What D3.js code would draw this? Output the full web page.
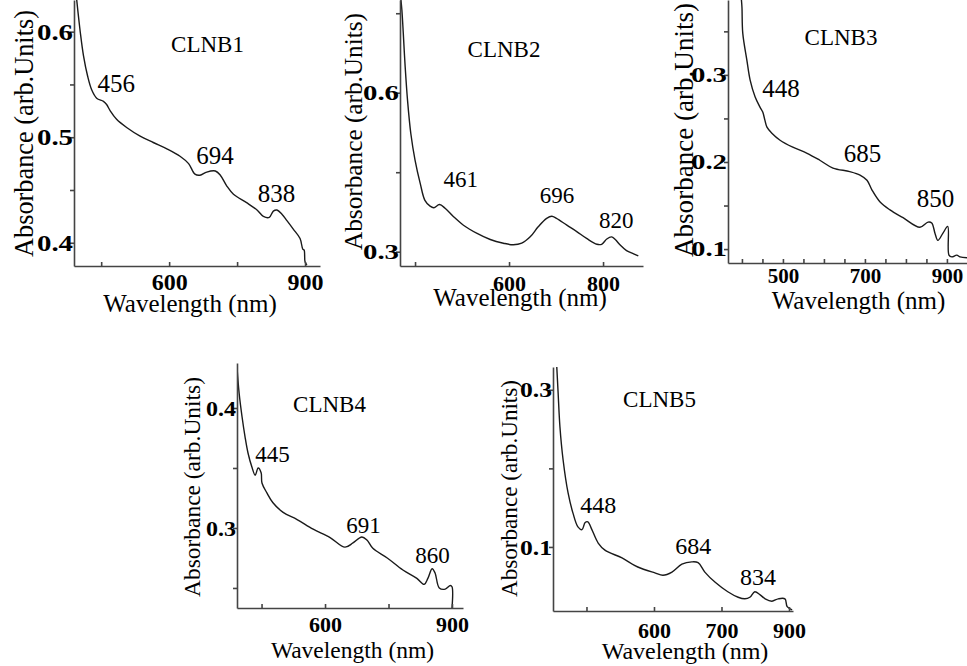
<!DOCTYPE html>
<html>
<head>
<meta charset="utf-8">
<script src="https://cdn.jsdelivr.net/npm/d3@7"></script>
<style>
  body { margin: 0; background: #fff; }
  svg { display: block; }
  text { font-family: "Liberation Serif", "Times New Roman", serif; fill: #000; }
  .axis .domain, .axis line { stroke: #444; stroke-width: 1.6; }
  .axis text { font-weight: bold; fill: #000; }
</style>
</head>
<body>
<svg id="chart" width="967" height="666"></svg>
<script>
// ---- data ----
const clnb1Wavelength = [396, 404, 411, 420, 429, 440, 455, 462, 470, 484, 507, 536, 565, 595, 624, 643, 657, 668, 683, 702, 713, 727, 742, 771, 794, 808, 821, 830, 838, 849, 860, 874, 889, 895, 898, 900, 904];
const clnb1Absorbance = [0.630, 0.599, 0.577, 0.558, 0.545, 0.537, 0.534, 0.531, 0.525, 0.517, 0.509, 0.501, 0.495, 0.489, 0.482, 0.475, 0.465, 0.464, 0.467, 0.468, 0.464, 0.454, 0.446, 0.438, 0.431, 0.425, 0.424, 0.430, 0.431, 0.427, 0.421, 0.413, 0.404, 0.394, 0.393, 0.382, 0.379];

const clnb2Wavelength = [370, 372, 375, 379, 384, 391, 400, 411, 421, 432, 440, 452, 464, 482, 503, 531, 560, 588, 609, 627, 645, 662, 680, 691, 701, 723, 744, 765, 787, 797, 808, 818, 826, 836, 850, 865, 875];
const clnb2Absorbance = [0.775, 0.756, 0.712, 0.649, 0.586, 0.523, 0.473, 0.429, 0.397, 0.386, 0.383, 0.389, 0.382, 0.366, 0.350, 0.335, 0.323, 0.316, 0.313, 0.316, 0.328, 0.347, 0.363, 0.367, 0.363, 0.350, 0.338, 0.325, 0.314, 0.314, 0.324, 0.328, 0.323, 0.313, 0.302, 0.296, 0.292];

const clnb3Wavelength = [398, 400, 402, 412, 420, 432, 444, 451, 456, 461, 473, 493, 524, 559, 590, 622, 663, 688, 705, 717, 737, 761, 793, 834, 854, 863, 871, 878, 890, 902, 905, 912, 924, 932, 949];
const clnb3Absorbance = [0.390, 0.378, 0.348, 0.317, 0.294, 0.275, 0.263, 0.257, 0.248, 0.240, 0.233, 0.225, 0.217, 0.210, 0.202, 0.193, 0.189, 0.185, 0.179, 0.168, 0.154, 0.145, 0.136, 0.125, 0.131, 0.130, 0.118, 0.110, 0.118, 0.126, 0.093, 0.091, 0.093, 0.091, 0.090];

const clnb4Wavelength = [392, 397, 404, 411, 418, 427, 435, 442, 449, 451, 463, 477, 501, 534, 572, 612, 647, 666, 687, 699, 713, 747, 784, 817, 834, 843, 853, 860, 870, 884, 896, 900, 900];
const clnb4Absorbance = [0.434, 0.4125, 0.3925, 0.376, 0.3625, 0.351, 0.344, 0.350, 0.346, 0.3375, 0.329, 0.321, 0.313, 0.307, 0.299, 0.292, 0.284, 0.2875, 0.2925, 0.290, 0.283, 0.275, 0.265, 0.258, 0.253, 0.258, 0.266, 0.2625, 0.250, 0.249, 0.252, 0.251, 0.233];

const clnb5Wavelength = [384, 387, 391, 398, 409, 420, 431, 440, 447, 453, 462, 476, 491, 529, 564, 602, 620, 640, 662, 684, 698, 713, 736, 764, 787, 802, 813, 824, 836, 847, 862, 876, 891, 896, 907];
const clnb5Absorbance = [0.329, 0.296, 0.253, 0.211, 0.169, 0.143, 0.1255, 0.122, 0.131, 0.132, 0.122, 0.105, 0.096, 0.086, 0.0745, 0.067, 0.064, 0.068, 0.078, 0.081, 0.080, 0.068, 0.055, 0.043, 0.036, 0.034, 0.036, 0.043, 0.039, 0.034, 0.031, 0.034, 0.034, 0.024, 0.020];

// peak annotations: text, and where the label sits (wavelength of its centre, absorbance of its baseline)
const clnb1PeakLabels = ["456", "694", "838"];
const clnb1PeakX = [483, 701, 837];
const clnb1PeakY = [0.543, 0.4744, 0.4385];
const clnb2PeakLabels = ["461", "696", "820"];
const clnb2PeakX = [497, 702, 828];
const clnb2PeakY = [0.422, 0.392, 0.345];
const clnb3PeakLabels = ["448", "685", "850"];
const clnb3PeakX = [495, 694, 872];
const clnb3PeakY = [0.2747, 0.200, 0.1483];
const clnb4PeakLabels = ["445", "691", "860"];
const clnb4PeakX = [476, 691, 854];
const clnb4PeakY = [0.355, 0.2958, 0.2708];
const clnb5PeakLabels = ["448", "684", "834"];
const clnb5PeakX = [476, 687, 831];
const clnb5PeakY = [0.1433, 0.0911, 0.0516];

// ticks
const clnb1XTicks = [450, 600, 750, 900];
const clnb1XTickLabels = ["", "600", "", "900"];
const clnb1YTicks = [0.4, 0.45, 0.5, 0.55, 0.6];
const clnb1YTickLabels = ["0.4", "", "0.5", "", "0.6"];
const clnb2XTicks = [400, 600, 800];
const clnb2XTickLabels = ["", "600", "800"];
const clnb2YTicks = [0.3, 0.45, 0.6, 0.75];
const clnb2YTickLabels = ["0.3", "", "0.6", ""];
const clnb3XTicks = [400, 450, 500, 550, 600, 650, 700, 750, 800, 850, 900];
const clnb3XTickLabels = ["", "", "500", "", "", "", "700", "", "", "", "900"];
const clnb3YTicks = [0.1, 0.15, 0.2, 0.25, 0.3, 0.35];
const clnb3YTickLabels = ["0.1", "", "0.2", "", "0.3", ""];
const clnb4XTicks = [450, 600, 750, 900];
const clnb4XTickLabels = ["", "600", "", "900"];
const clnb4YTicks = [0.25, 0.3, 0.35, 0.4];
const clnb4YTickLabels = ["", "0.3", "", "0.4"];
const clnb5XTicks = [450, 600, 750, 900];
const clnb5XTickLabels = ["", "600", "700", "900"];
const clnb5YTicks = [0.1, 0.2, 0.3];
const clnb5YTickLabels = ["0.1", "", "0.3"];

const xTitle = "Wavelength (nm)";
const yTitle = "Absorbance (arb.Units)";

const serif = '"Liberation Serif", "Times New Roman", serif';

// ---- layout of the five panels ----
const panels = [
  { name: "CLNB1", wl: clnb1Wavelength, ab: clnb1Absorbance,
    peaks: clnb1PeakLabels, peakX: clnb1PeakX, peakY: clnb1PeakY,
    xTicks: clnb1XTicks, xTickLabels: clnb1XTickLabels, yTicks: clnb1YTicks, yTickLabels: clnb1YTickLabels,
    box: { left: 74, right: 320, top: 0, bottom: 266 }, xDomain: [390, 933], yDomain: [0.378, 0.63],
    tickFont: 24, xPad: 7, yTickW: 36, peakFont: 25,
    title: { x: 207.5, y: 52, size: 23 }, xLab: { x: 190, y: 312, size: 25 }, yLab: { x: 33, y: 133.5, size: 27, len: 247 } },
  { name: "CLNB2", wl: clnb2Wavelength, ab: clnb2Absorbance,
    peaks: clnb2PeakLabels, peakX: clnb2PeakX, peakY: clnb2PeakY,
    xTicks: clnb2XTicks, xTickLabels: clnb2XTickLabels, yTicks: clnb2YTicks, yTickLabels: clnb2YTickLabels,
    box: { left: 400, right: 643, top: 0, bottom: 266 }, xDomain: [368, 885], yDomain: [0.273, 0.775],
    tickFont: 22, xPad: 9, yTickW: 36, peakFont: 23,
    title: { x: 504, y: 57, size: 23 }, xLab: { x: 520, y: 306, size: 25 }, yLab: { x: 362, y: 131.5, size: 26, len: 237 } },
  { name: "CLNB3", wl: clnb3Wavelength, ab: clnb3Absorbance,
    peaks: clnb3PeakLabels, peakX: clnb3PeakX, peakY: clnb3PeakY,
    xTicks: clnb3XTicks, xTickLabels: clnb3XTickLabels, yTicks: clnb3YTicks, yTickLabels: clnb3YTickLabels,
    box: { left: 728, right: 967, top: 0, bottom: 263 }, xDomain: [366, 949], yDomain: [0.084, 0.386],
    tickFont: 21, xPad: 5, yTickW: 36, peakFont: 25,
    title: { x: 841, y: 45, size: 23 }, xLab: { x: 858.5, y: 309, size: 25 }, yLab: { x: 693, y: 130, size: 27, len: 254 } },
  { name: "CLNB4", wl: clnb4Wavelength, ab: clnb4Absorbance,
    peaks: clnb4PeakLabels, peakX: clnb4PeakX, peakY: clnb4PeakY,
    xTicks: clnb4XTicks, xTickLabels: clnb4XTickLabels, yTicks: clnb4YTicks, yTickLabels: clnb4YTickLabels,
    box: { left: 237, right: 463, top: 363, bottom: 608 }, xDomain: [392, 926], yDomain: [0.2333, 0.4375],
    tickFont: 22, xPad: 8.5, yTickW: 30, peakFont: 23,
    title: { x: 329.5, y: 412, size: 23 }, xLab: { x: 352.5, y: 658, size: 23.5 }, yLab: { x: 200, y: 487, size: 24, len: 220 } },
  { name: "CLNB5", wl: clnb5Wavelength, ab: clnb5Absorbance,
    peaks: clnb5PeakLabels, peakX: clnb5PeakX, peakY: clnb5PeakY,
    xTicks: clnb5XTicks, xTickLabels: clnb5XTickLabels, yTicks: clnb5YTicks, yTickLabels: clnb5YTickLabels,
    box: { left: 553, right: 793, top: 367, bottom: 611 }, xDomain: [375.6, 908.9], yDomain: [0.0185, 0.329],
    tickFont: 22, xPad: 11, yTickW: 32, peakFont: 24,
    title: { x: 659.5, y: 407, size: 23 }, xLab: { x: 685, y: 659, size: 24 }, yLab: { x: 517, y: 488.5, size: 24, len: 217 } }
];

const svg = d3.select('#chart');

function drawPanel(p, idx) {
  const x = d3.scaleLinear().domain(p.xDomain).range([p.box.left, p.box.right]);
  const y = d3.scaleLinear().domain(p.yDomain).range([p.box.bottom, p.box.top]);
  const g = svg.append('g').attr('class', 'panel');

  // keep the spectrum inside its own frame
  g.append('clipPath').attr('id', 'clip' + idx)
    .append('rect')
    .attr('x', p.box.left).attr('y', p.box.top - 2)
    .attr('width', p.box.right - p.box.left).attr('height', p.box.bottom - p.box.top + 2);

  const line = d3.line()
    .x((d) => x(d[0]))
    .y((d) => y(d[1]))
    .curve(d3.curveCatmullRom.alpha(0.5));

  g.append('path')
    .datum(d3.zip(p.wl, p.ab))
    .attr('clip-path', `url(#clip${idx})`)
    .attr('d', line)
    .attr('fill', 'none')
    .attr('stroke', '#1a1a1a')
    .attr('stroke-width', 1.4);

  // axes
  const xAxis = d3.axisBottom(x)
    .tickValues(p.xTicks)
    .tickFormat((d, i) => p.xTickLabels[i])
    .tickSizeInner(-4).tickSizeOuter(0).tickPadding(p.xPad);
  const gx = g.append('g').attr('class', 'axis')
    .attr('transform', `translate(0,${p.box.bottom})`)
    .call(xAxis)
    .attr('font-family', serif).attr('font-size', null);
  gx.selectAll('text').style('font-size', p.tickFont + 'px');

  const yAxis = d3.axisLeft(y)
    .tickValues(p.yTicks)
    .tickFormat((d, i) => p.yTickLabels[i])
    .tickSizeInner(4).tickSizeOuter(0).tickPadding(-3);
  const gy = g.append('g').attr('class', 'axis')
    .attr('transform', `translate(${p.box.left},0)`)
    .call(yAxis)
    .attr('font-family', serif).attr('font-size', null);
  gy.selectAll('text')
    .style('font-size', p.tickFont + 'px')
    .filter(function () { return this.textContent !== ''; })
    .attr('textLength', p.yTickW)
    .attr('lengthAdjust', 'spacingAndGlyphs');

  // peak labels
  g.selectAll('text.peak')
    .data(p.peaks)
    .join('text')
    .attr('class', 'peak')
    .attr('x', (d, i) => x(p.peakX[i]))
    .attr('y', (d, i) => y(p.peakY[i]))
    .attr('text-anchor', 'middle')
    .attr('font-family', serif)
    .style('font-size', p.peakFont + 'px')
    .text((d) => d);

  // sample name
  g.append('text')
    .attr('x', p.title.x).attr('y', p.title.y)
    .attr('text-anchor', 'middle')
    .attr('font-family', serif)
    .style('font-size', p.title.size + 'px')
    .text(p.name);

  // axis titles
  g.append('text')
    .attr('x', p.xLab.x).attr('y', p.xLab.y)
    .attr('text-anchor', 'middle')
    .attr('font-family', serif)
    .style('font-size', p.xLab.size + 'px')
    .text(xTitle);

  g.append('text')
    .attr('transform', `translate(${p.yLab.x},${p.yLab.y}) rotate(-90)`)
    .attr('text-anchor', 'middle')
    .attr('textLength', p.yLab.len)
    .attr('lengthAdjust', 'spacingAndGlyphs')
    .attr('font-family', serif)
    .style('font-size', p.yLab.size + 'px')
    .text(yTitle);
}

panels.forEach(drawPanel);
</script>
</body>
</html>
